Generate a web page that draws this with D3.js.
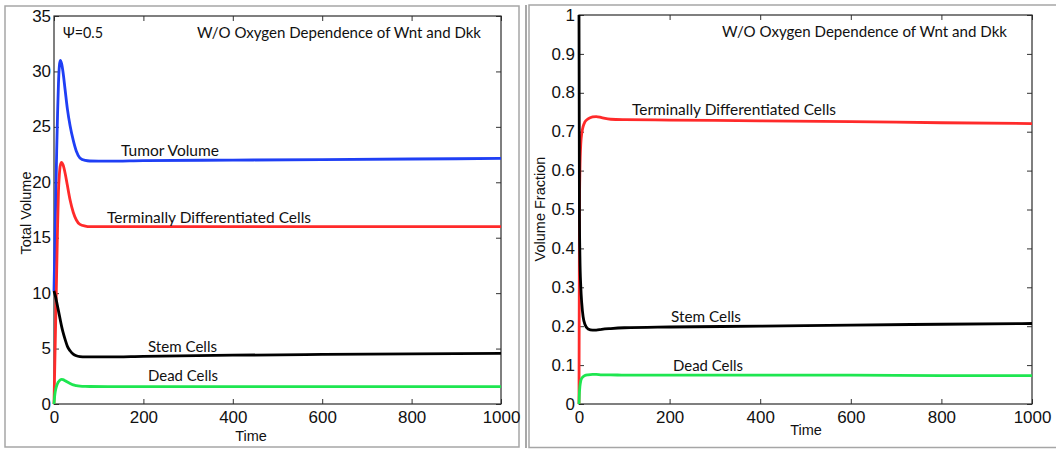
<!DOCTYPE html>
<html>
<head>
<meta charset="utf-8">
<script src="https://cdn.jsdelivr.net/npm/d3@7"></script>
<style>
  html, body { margin: 0; padding: 0; background: #ffffff; }
  svg { display: block; }
  .tick text { font-family: "Liberation Sans", Arial, sans-serif; font-size: 16px; fill: #111; }
  .axis-label { font-family: "Liberation Sans", Arial, sans-serif; font-size: 14.5px; fill: #111; }
  .note { font-family: Lato, "Open Sans", "DejaVu Sans", sans-serif; font-size: 15px; fill: #111; }
</style>
</head>
<body>
<svg id="chart" width="1056" height="449"></svg>
<script>
// ---- Left panel: total volumes over time ----
const leftTime = [0, 2, 4, 6, 8, 10, 12, 14, 17, 20, 25, 30, 36, 43, 50, 58, 70, 80, 120, 200, 400, 600, 800, 1000];
const tumorVolume = [10.2, 14.5, 18.8, 22.8, 26.2, 28.9, 30.5, 31.0, 30.7, 30.0, 28.3, 26.6, 25.1, 23.8, 22.8, 22.2, 21.97, 21.92, 21.9, 21.95, 22.0, 22.05, 22.1, 22.15];
const tdVolume    = [0, 4, 8, 12, 16, 19.2, 20.7, 21.5, 21.8, 21.6, 20.8, 19.7, 18.4, 17.3, 16.6, 16.2, 16.05, 16.0, 16.0, 16.0, 16.0, 16.0, 16.0, 16.0];
const stemVolume  = [10.2, 9.9, 9.6, 9.2, 8.8, 8.4, 8.0, 7.6, 7.0, 6.5, 5.8, 5.2, 4.8, 4.5, 4.35, 4.28, 4.25, 4.25, 4.25, 4.3, 4.4, 4.47, 4.53, 4.57];
const deadVolume  = [0, 0.9, 1.35, 1.65, 1.85, 2.0, 2.1, 2.18, 2.22, 2.2, 2.1, 1.98, 1.85, 1.72, 1.66, 1.62, 1.59, 1.58, 1.57, 1.57, 1.57, 1.56, 1.56, 1.56];

// ---- Right panel: volume fractions over time ----
const rightTime = [0, 1, 2, 4, 6, 9, 13, 20, 30, 38, 50, 70, 100, 200, 400, 600, 800, 1000];
const tdFraction   = [0, 0.5, 0.6, 0.67, 0.695, 0.713, 0.725, 0.733, 0.738, 0.739, 0.736, 0.732, 0.731, 0.73, 0.728, 0.726, 0.723, 0.721];
const stemFraction = [1.0, 0.48, 0.38, 0.3, 0.26, 0.225, 0.205, 0.193, 0.19, 0.19, 0.192, 0.194, 0.196, 0.198, 0.2, 0.203, 0.205, 0.207];
const deadFraction = [0, 0.03, 0.045, 0.06, 0.066, 0.07, 0.073, 0.075, 0.076, 0.076, 0.075, 0.075, 0.074, 0.074, 0.074, 0.074, 0.073, 0.073];

// ---- Tick values and labels ----
const timeTicks = [0, 200, 400, 600, 800, 1000];
const volumeTicks = [0, 5, 10, 15, 20, 25, 30, 35];
const fractionTicks = [0, 0.1, 0.2, 0.3, 0.4, 0.5, 0.6, 0.7, 0.8, 0.9, 1];

const titleText = "W/O Oxygen Dependence of Wnt and Dkk";
const psiText = "\u03A8=0.5";
const curveLabels = {
  tumor: "Tumor Volume",
  td: "Terminally Differentiated Cells",
  stem: "Stem Cells",
  dead: "Dead Cells"
};

const COLORS = { tumor: "#1f3ff5", td: "#ff2a2a", stem: "#000000", dead: "#1ee650" };

const svg = d3.select("#chart");

// Panel frames
svg.append("rect").attr("x", 5).attr("y", 6).attr("width", 514).attr("height", 441)
  .attr("fill", "none").attr("stroke", "#a6a6a6").attr("stroke-width", 1.5);
svg.append("rect").attr("x", 529).attr("y", 5).attr("width", 540).attr("height", 442.5)
  .attr("fill", "none").attr("stroke", "#a6a6a6").attr("stroke-width", 1.5);
svg.append("line").attr("x1", 526).attr("x2", 526).attr("y1", 5).attr("y2", 448)
  .attr("stroke", "#6e6e6e").attr("stroke-width", 1.2);

function stretchLabels(sel, factor) {
  sel.selectAll(".tick text").each(function () {
    const w = this.getComputedTextLength();
    d3.select(this).attr("textLength", w * factor).attr("lengthAdjust", "spacingAndGlyphs");
  });
}

function drawPanel(cfg) {
  const x = d3.scaleLinear().domain([0, 1000]).range([cfg.x0, cfg.x1]);
  const y = d3.scaleLinear().domain(cfg.yDomain).range([cfg.y0, cfg.y1]);
  const g = svg.append("g");

  // Bottom axis with labels, inward ticks
  const bottom = g.append("g").attr("transform", `translate(0,${cfg.y0})`)
    .call(d3.axisBottom(x).tickValues(timeTicks).tickFormat(d3.format("d"))
      .tickSizeInner(-5).tickSizeOuter(0).tickPadding(8));
  // Left axis with labels
  const left = g.append("g").attr("transform", `translate(${cfg.x0},0)`)
    .call(d3.axisLeft(y).tickValues(cfg.yTicks).tickFormat(cfg.yFormat)
      .tickSizeInner(-5).tickSizeOuter(0).tickPadding(cfg.yPad));
  // Mirrored top and right ticks
  const top = g.append("g").attr("transform", `translate(0,${cfg.y1})`)
    .call(d3.axisTop(x).tickValues(timeTicks).tickFormat("").tickSizeInner(-5).tickSizeOuter(0));
  const right = g.append("g").attr("transform", `translate(${cfg.x1},0)`)
    .call(d3.axisRight(y).tickValues(cfg.yTicks).tickFormat("").tickSizeInner(-5).tickSizeOuter(0));

  [bottom, left, top, right].forEach(a => {
    a.select(".domain").remove();
    a.selectAll(".tick line").attr("stroke", "#333").attr("stroke-width", 1);
  });
  stretchLabels(bottom, 1.06);
  stretchLabels(left, 1.06);

  // Plot box
  g.append("rect").attr("x", cfg.x0).attr("y", cfg.y1)
    .attr("width", cfg.x1 - cfg.x0).attr("height", cfg.y0 - cfg.y1)
    .attr("fill", "none").attr("stroke", "#2b2b2b").attr("stroke-width", 1.2);

  const line = d3.line()
    .x(d => x(d[0])).y(d => y(d[1]))
    .curve(d3.curveMonotoneX);

  cfg.series.forEach(s => {
    g.append("path")
      .datum(cfg.time.map((t, i) => [t, s.values[i]]))
      .attr("fill", "none")
      .attr("stroke", s.color)
      .attr("stroke-width", 2.8)
      .attr("stroke-linejoin", "round")
      .attr("d", line);
  });

  // Axis titles
  g.append("text").attr("class", "axis-label")
    .attr("x", cfg.timeLabelX).attr("y", cfg.timeLabelY)
    .attr("text-anchor", "middle").text("Time");
  g.append("text").attr("class", "axis-label")
    .attr("transform", `translate(${cfg.yLabelX},${cfg.yLabelY}) rotate(-90)`)
    .attr("text-anchor", "middle").text(cfg.yLabel);

  // Annotations
  cfg.notes.forEach(n => {
    g.append("text").attr("class", "note")
      .attr("x", n.x).attr("y", n.y)
      .attr("textLength", n.w).attr("lengthAdjust", "spacingAndGlyphs")
      .text(n.text);
  });
}

drawPanel({
  x0: 54, x1: 501, y0: 404, y1: 16,
  yDomain: [0, 35], yTicks: volumeTicks, yFormat: d3.format("d"), yPad: 3,
  time: leftTime,
  series: [
    { values: tumorVolume, color: COLORS.tumor },
    { values: tdVolume, color: COLORS.td },
    { values: stemVolume, color: COLORS.stem },
    { values: deadVolume, color: COLORS.dead }
  ],
  timeLabelX: 251, timeLabelY: 441,
  yLabel: "Total Volume", yLabelX: 31, yLabelY: 213,
  notes: [
    { text: psiText, x: 63, y: 38, w: 40 },
    { text: titleText, x: 197, y: 38, w: 284 },
    { text: curveLabels.tumor, x: 121, y: 156, w: 98 },
    { text: curveLabels.td, x: 107, y: 223, w: 204 },
    { text: curveLabels.stem, x: 148, y: 352, w: 69 },
    { text: curveLabels.dead, x: 148, y: 381, w: 70 }
  ]
});

drawPanel({
  x0: 579, x1: 1032, y0: 404, y1: 15,
  yDomain: [0, 1], yTicks: fractionTicks, yFormat: d => d === 0 || d === 1 ? String(d) : d3.format(".1f")(d), yPad: 4,
  time: rightTime,
  series: [
    { values: tdFraction, color: COLORS.td },
    { values: stemFraction, color: COLORS.stem },
    { values: deadFraction, color: COLORS.dead }
  ],
  timeLabelX: 806, timeLabelY: 435,
  yLabel: "Volume Fraction", yLabelX: 545, yLabelY: 209,
  notes: [
    { text: titleText, x: 722, y: 37, w: 285 },
    { text: curveLabels.td, x: 632, y: 115, w: 204 },
    { text: curveLabels.stem, x: 671, y: 322, w: 70 },
    { text: curveLabels.dead, x: 673, y: 371, w: 70 }
  ]
});
</script>
</body>
</html>
